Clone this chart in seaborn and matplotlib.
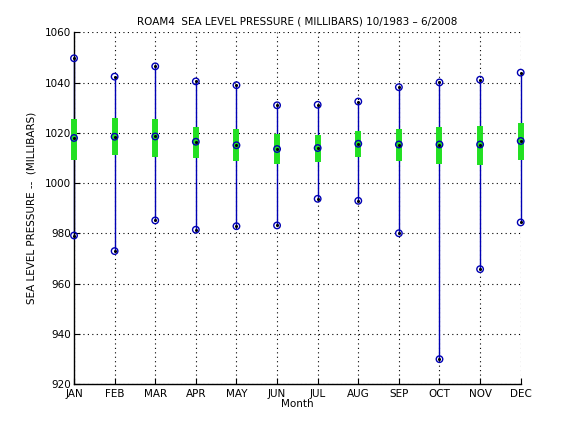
import matplotlib
matplotlib.use('Agg')
import matplotlib.pyplot as plt
import seaborn as sns
import pandas as pd

# Valores (milibares)
months = ['JAN', 'FEB', 'MAR', 'APR', 'MAY', 'JUN',
          'JUL', 'AUG', 'SEP', 'OCT', 'NOV', 'DEC']
slp_max = [1049.7, 1042.4, 1046.5, 1040.5, 1039.0, 1031.0,
           1031.2, 1032.5, 1038.2, 1040.1, 1041.2, 1044.0]
slp_min = [979.2, 973.0, 985.2, 981.5, 982.9, 983.2,
           993.8, 993.0, 980.1, 930.0, 965.8, 984.4]
slp_mean = [1018.0, 1018.5, 1018.6, 1016.5, 1015.1, 1013.6,
            1014.0, 1015.7, 1015.4, 1015.4, 1015.4, 1016.8]
std_top = [1025.7, 1026.1, 1025.7, 1022.5, 1021.7, 1019.7,
           1019.3, 1020.9, 1021.7, 1022.5, 1022.9, 1024.1]
std_bottom = [1009.4, 1011.1, 1010.4, 1010.0, 1008.8, 1007.8,
              1008.6, 1010.6, 1009.0, 1007.8, 1007.4, 1009.4]

df = pd.DataFrame({'month': range(1, 13), 'max': slp_max, 'min': slp_min,
                   'mean': slp_mean, 'top': std_top, 'bottom': std_bottom})

sns.set_style('white')
plt.rcParams['font.family'] = ['DejaVu Sans']
plt.rcParams['text.color'] = 'black'
plt.rcParams['axes.labelcolor'] = 'black'

fig = plt.figure(figsize=(5.76, 4.32), dpi=100)
ax = fig.add_axes([0.1285, 0.1104, 0.7755, 0.8146])

# linhas min-max
ax.vlines(df['month'], df['min'], df['max'], color='#0000b4', lw=1.0,
          zorder=2, clip_on=False)
# barras de desvio padrão
ax.vlines(df['month'], df['bottom'], df['top'], color='#22e022', lw=4.3,
          zorder=3, clip_on=False)

pts = pd.concat([
    df[['month', 'max']].rename(columns={'max': 'v'}),
    df[['month', 'min']].rename(columns={'min': 'v'}),
    df[['month', 'mean']].rename(columns={'mean': 'v'}),
])
sns.scatterplot(data=pts, x='month', y='v', ax=ax, marker='o', s=22,
                facecolor='none', edgecolor='#0000b4', linewidth=1.0,
                zorder=4, clip_on=False)
sns.scatterplot(data=pts, x='month', y='v', ax=ax, marker='o', s=5,
                color='black', linewidth=0, zorder=5, clip_on=False)

ax.set_xlim(1, 12)
ax.set_ylim(920, 1060)
ax.set_xticks(range(1, 13))
ax.set_xticklabels(months)
ax.set_yticks(range(920, 1061, 20))
ax.grid(True, color='black', linestyle=(0, (1, 3)), linewidth=0.8)
ax.tick_params(direction='in', length=4, labelsize=7.5, colors='black',
               left=True, bottom=True)
ax.tick_params(axis='x', pad=3.5)
ax.tick_params(axis='y', pad=2)
for s in ['top', 'right']:
    ax.spines[s].set_visible(False)
for s in ['left', 'bottom']:
    ax.spines[s].set_color('black')
    ax.spines[s].set_linewidth(1.0)

ax.set_title('ROAM4  SEA LEVEL PRESSURE ( MILLIBARS) 10/1983 \u2013 6/2008',
             fontsize=7.5, pad=6, color='black')
ax.set_xlabel('Month', fontsize=7.5, labelpad=0, color='black')
ax.set_ylabel('SEA LEVEL PRESSURE --  (MILLIBARS)', fontsize=7.5,
              labelpad=6, color='black')

plt.savefig('out.png', dpi=100)
